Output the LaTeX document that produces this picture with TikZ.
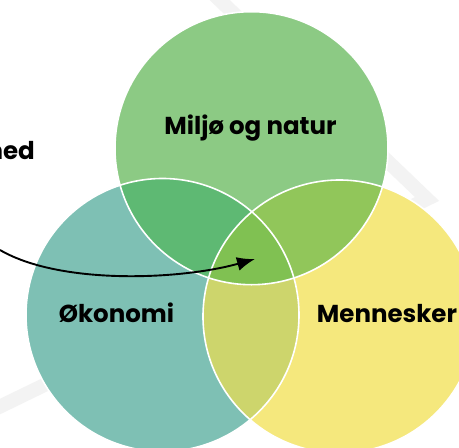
\documentclass[tikz,border=0pt]{standalone}
\usepackage{fontspec}
\setmainfont{Poppins}
\usetikzlibrary{arrows.meta}
\definecolor{cTop}{RGB}{140,202,132}
\definecolor{cLeft}{RGB}{126,192,180}
\definecolor{cRight}{RGB}{245,232,125}
\definecolor{cTL}{RGB}{94,185,115}
\definecolor{cTR}{RGB}{145,198,90}
\definecolor{cLR}{RGB}{205,213,108}
\definecolor{cAll}{RGB}{128,193,82}
\definecolor{cBand}{RGB}{243,243,243}
\tikzset{
  lbl/.style={font=\bfseries\fontsize{24.5}{28}\selectfont, anchor=base, text=black, inner sep=0pt},
  ring/.style={draw=white, line width=1.6pt},
  band/.style={draw=cBand, line width=14pt, line join=miter},
  conn/.style={draw=black, line width=1.9pt, -{Latex[length=18pt,width=14pt]}}
}
\begin{document}
\begin{tikzpicture}[x=1pt,y=-1pt]
\useasboundingbox (0,0) rectangle (459,448);
\clip (0,0) rectangle (459,448);
\fill[white] (0,0) rectangle (459,448);
\def\R{136.5pt}
\coordinate (T) at (251.5,148.2);
\coordinate (L) at (162.5,315);
\coordinate (Rr) at (339.5,316.5);
% background band (triangle)
\coordinate (b1) at (-20,-230);
\coordinate (bv) at (427,199);
\coordinate (b2) at (-40,426);
\draw[band] (b1) -- (bv) -- (b2);
% circles
\fill[cTop] (T) circle[radius=\R];
\fill[cLeft] (L) circle[radius=\R];
\fill[cRight] (Rr) circle[radius=\R];
\begin{scope}
  \clip (T) circle[radius=\R];
  \fill[cTL] (L) circle[radius=\R];
  \fill[cTR] (Rr) circle[radius=\R];
  \clip (L) circle[radius=\R];
  \fill[cAll] (Rr) circle[radius=\R];
\end{scope}
\begin{scope}
  \clip (L) circle[radius=\R];
  \fill[cLR] (Rr) circle[radius=\R];
  \clip (T) circle[radius=\R];
  \fill[cAll] (Rr) circle[radius=\R];
\end{scope}
\draw[ring] (T) circle[radius=\R];
\draw[ring] (L) circle[radius=\R];
\draw[ring] (Rr) circle[radius=\R];
% labels
\node[lbl] (miljo) at (250.5,134) {Miljø og natur};
\node[lbl] (okonomi) at (116.5,322) {Økonomi};
\node[lbl] (mennesker) at (387,322) {Mennesker};
\node[lbl, anchor=base east] (ned) at (35,159) {ned};
% arrow
\coordinate (aS) at (0,250);
\coordinate (aE) at (255,259);
\draw[conn] (aS) .. controls (60,285) and (180,280) .. (aE);
\end{tikzpicture}
\end{document}
